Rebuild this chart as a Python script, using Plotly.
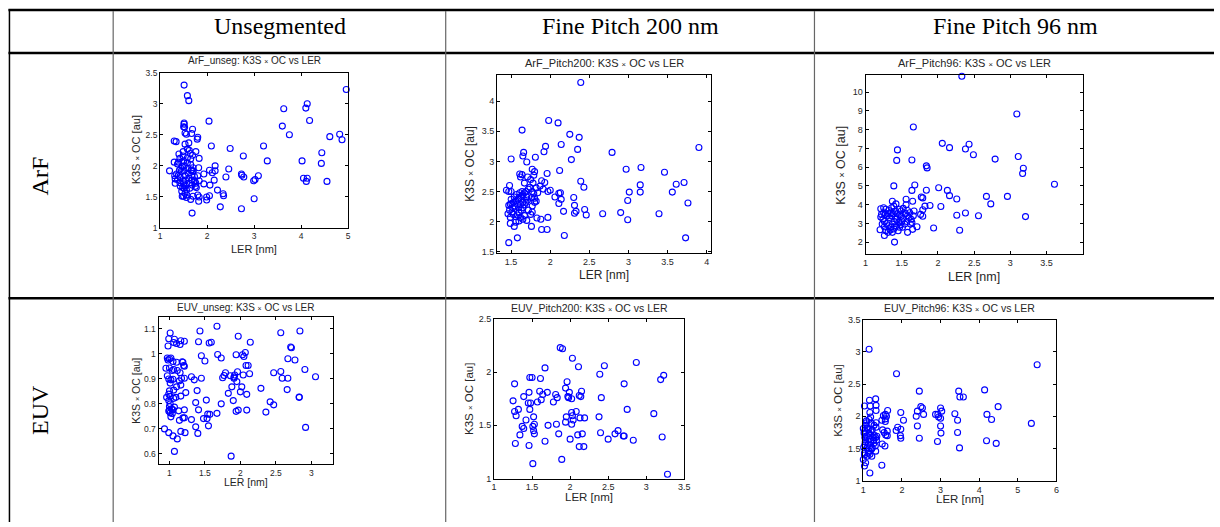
import plotly.graph_objects as go

W, H = 1220, 527

# ---------------- text ----------------
col_headers = ["Unsegmented", "Fine Pitch 200 nm", "Fine Pitch 96 nm"]
row_headers = ["ArF", "EUV"]
panel_names = ["ArF_unseg", "ArF_Pitch200", "ArF_Pitch96", "EUV_unseg", "EUV_Pitch200", "EUV_Pitch96"]
x_label = "LER [nm]"
y_label = "K3S × OC [au]"

# ---------------- data ----------------
arf_unseg_ler = [1.51, 1.58, 1.61, 4.96, 4.13, 4.10, 3.63, 4.18, 3.60, 3.75, 4.82, 4.87, 4.61, 4.44, 4.43,
                 4.02, 4.05, 4.11, 4.13, 4.55, 3.20, 3.28, 3.09, 3.02, 2.99, 3.00, 2.77, 2.73, 2.74, 2.78,
                 2.73, 2.49, 2.46, 2.40, 2.34, 2.35, 2.28, 2.22, 2.04, 2.09, 2.17, 2.17, 2.11, 2.05, 2.15,
                 2.06, 2.05, 1.99, 1.99, 1.93, 1.93, 1.83, 1.80, 1.79, 1.76, 1.82, 1.80, 1.83, 1.80, 1.83,
                 1.82, 1.68, 1.65, 1.70, 1.77, 1.76, 1.69, 1.67, 1.61, 1.62, 1.56, 1.52, 1.51, 1.51, 1.50,
                 1.53, 1.30, 1.34, 1.20, 1.30, 1.31, 1.32, 1.32,
                 1.37, 1.40, 1.42, 1.44, 1.39, 1.37, 1.42, 1.43, 1.46, 1.47, 1.48, 1.49, 1.49, 1.50, 1.51,
                 1.51, 1.53, 1.54, 1.54, 1.56, 1.57, 1.58, 1.58, 1.59, 1.60, 1.61, 1.62, 1.63, 1.64, 1.65,
                 1.65, 1.66, 1.67, 1.68, 1.68, 1.69, 1.70, 1.70, 1.73, 1.74, 1.75, 1.46, 1.47, 1.45, 1.43,
                 1.49, 1.50, 1.51, 1.53, 1.50, 1.56, 1.39, 1.35, 1.41, 1.53, 1.58, 1.67, 1.70]
arf_unseg_k3s = [3.30, 3.13, 3.05, 3.23, 3.00, 2.93, 2.92, 2.73, 2.64, 2.50, 2.51, 2.42, 2.47, 2.21, 2.04,
                 2.08, 1.80, 1.75, 1.80, 1.75, 2.32, 2.08, 1.84, 1.78, 1.76, 1.47, 2.16, 1.87, 1.85, 1.82,
                 1.31, 2.28, 1.95, 1.82, 1.55, 1.52, 1.34, 1.61, 2.72, 2.32, 2.00, 1.92, 1.89, 1.93, 1.77,
                 1.69, 1.52, 1.50, 1.45, 1.71, 1.87, 2.12, 2.46, 2.43, 2.23, 1.97, 1.84, 1.76, 1.53, 1.50,
                 1.43, 1.24, 1.46, 1.51, 1.65, 1.72, 2.59, 2.52, 2.37, 2.25, 2.51, 2.62, 2.69, 2.67, 2.63,
                 2.53, 2.40, 2.39, 1.92, 2.06, 1.84, 1.79, 1.72,
                 2.03, 2.19, 2.12, 1.96, 1.85, 1.78, 1.73, 1.67, 1.59, 1.51, 1.65, 2.23, 2.16, 2.08, 2.00,
                 1.92, 1.84, 1.77, 1.68, 1.61, 1.53, 2.13, 2.05, 1.96, 1.88, 1.80, 1.72, 1.64, 2.20, 2.11,
                 2.02, 1.93, 1.85, 1.77, 1.69, 2.17, 1.97, 1.92, 1.83, 1.75, 1.67, 2.06, 1.99, 1.91, 1.81,
                 1.75, 1.71, 1.64, 1.56, 1.51, 1.49, 2.06, 1.87, 1.93, 2.35, 2.27, 1.93, 1.91]

arf_p200_ler = [2.39, 1.98, 2.10, 1.64, 2.25, 2.37, 2.14, 1.94, 2.35, 1.92, 1.66, 1.65, 1.81, 1.50, 2.27,
                2.79, 1.70, 3.90, 2.97, 3.16, 3.46, 3.61, 3.71, 3.15, 3.15, 3.01, 3.56, 2.99, 3.76, 3.39,
                2.90, 2.67, 2.99, 3.73, 2.39, 2.43, 2.12, 1.96, 2.30, 2.31, 2.31, 2.33, 2.44, 2.46, 2.17,
                2.13, 2.11, 2.14, 2.11, 2.06, 2.00, 1.97, 1.97, 1.96, 1.89, 1.88, 1.83, 1.77, 1.76, 2.18,
                1.58, 1.47, 1.49, 1.54, 1.93, 1.91, 1.89, 1.87, 1.77, 1.80, 1.79, 1.75, 1.71, 1.67, 1.64,
                1.61, 1.62,
                1.44, 1.47, 1.50, 1.48, 1.49, 1.51, 1.53, 1.56, 1.59, 1.60, 1.63, 1.65, 1.67, 1.69, 1.72,
                1.74, 1.77, 1.79, 1.80, 1.82, 1.80, 1.76, 1.71, 1.69, 1.67, 1.65, 1.63, 1.60, 1.58, 1.56,
                1.53, 1.51, 1.48, 1.47, 1.52, 1.55, 1.58, 1.60, 1.62, 1.65, 1.67, 1.70, 1.62, 1.65, 1.67,
                1.70, 1.60, 1.56, 1.49, 1.46, 1.64, 1.61, 1.57, 1.54, 1.50, 1.82, 1.84, 1.78, 1.75, 1.77,
                1.72]
arf_p200_k3s = [4.31, 3.68, 3.64, 3.52, 3.45, 3.40, 3.28, 3.25, 3.20, 3.16, 3.15, 3.09, 3.07, 3.04, 3.03,
                3.15, 2.99, 3.23, 2.87, 2.90, 2.82, 2.62, 2.65, 2.61, 2.49, 2.49, 2.49, 2.35, 2.31, 2.13,
                2.15, 2.13, 2.03, 1.73, 2.67, 2.57, 2.85, 2.80, 2.40, 2.27, 2.14, 2.17, 2.20, 2.11, 2.17,
                2.48, 2.47, 2.37, 2.30, 2.41, 2.52, 2.50, 2.07, 1.87, 1.87, 2.04, 2.06, 2.16, 1.92, 1.77,
                1.73, 1.65, 1.97, 1.92, 2.65, 2.54, 2.68, 2.59, 2.87, 2.83, 2.77, 2.70, 2.74, 2.64, 2.78,
                2.79, 2.74,
                2.52, 2.50, 2.50, 2.60, 2.29, 2.30, 2.32, 2.34, 2.37, 2.40, 2.42, 2.45, 2.48, 2.50, 2.54,
                2.57, 2.50, 2.46, 2.39, 2.34, 2.32, 2.40, 2.36, 2.32, 2.28, 2.23, 2.19, 2.15, 2.11, 2.08,
                2.12, 2.16, 2.19, 2.27, 2.23, 2.26, 2.29, 2.23, 2.28, 2.32, 2.36, 2.41, 2.07, 2.04, 2.10,
                2.02, 2.01, 1.99, 2.07, 2.13, 2.50, 2.48, 2.45, 2.41, 2.37, 2.56, 2.48, 2.64, 2.12, 2.26,
                2.19]

arf_p96_ler = [2.33, 3.09, 1.66, 2.06, 2.43, 2.16, 2.38, 1.44, 2.49, 1.43, 1.64, 2.79, 3.11, 3.18, 3.17,
               1.84, 1.85, 3.61, 1.39, 1.68, 2.01, 2.13, 1.84, 1.64, 2.16, 2.67, 2.96, 2.26, 2.73, 1.77,
               1.79, 1.65, 1.56, 1.56, 1.89, 2.04, 1.82, 1.79, 1.76, 1.79, 2.38, 2.26, 2.56, 3.21, 1.94,
               2.30, 1.71, 1.65, 1.58, 1.40, 1.26, 1.20, 1.37, 1.42,
               1.21, 1.25, 1.28, 1.32, 1.36, 1.39, 1.41, 1.44, 1.47, 1.49, 1.52, 1.55, 1.58, 1.60, 1.63,
               1.66, 1.61, 1.58, 1.21, 1.24, 1.26, 1.29, 1.32, 1.35, 1.37, 1.40, 1.43, 1.46, 1.48, 1.51,
               1.54, 1.57, 1.23, 1.26, 1.28, 1.31, 1.34, 1.37, 1.39, 1.42, 1.45, 1.47, 1.30, 1.33, 1.36,
               1.38, 1.35, 1.31, 1.27, 1.25, 1.22, 1.41, 1.47, 1.49, 1.52, 1.50, 1.64, 1.67, 1.62]
arf_p96_k3s = [10.85, 8.84, 8.14, 7.27, 7.22, 7.04, 6.97, 6.92, 6.66, 6.36, 6.38, 6.43, 6.57, 5.94, 5.66,
               6.07, 5.96, 5.09, 5.00, 5.05, 4.90, 4.76, 4.77, 4.76, 4.48, 4.44, 4.44, 4.30, 4.04, 4.41,
               4.36, 4.18, 4.29, 3.99, 3.95, 3.90, 3.92, 3.73, 3.48, 3.38, 3.55, 3.43, 3.41, 3.36, 2.75,
               2.63, 2.82, 2.68, 2.52, 2.00, 2.35, 2.66, 4.18, 4.04,
               3.78, 3.83, 3.75, 3.69, 3.83, 3.92, 3.66, 3.52, 3.45, 3.36, 3.27, 3.52, 3.41, 3.31, 3.22,
               3.40, 3.57, 3.69, 3.34, 3.22, 3.10, 2.99, 2.87, 2.79, 2.96, 3.10, 3.22, 3.05, 2.92, 2.79,
               2.96, 3.10, 2.96, 2.82, 2.61, 2.52, 2.65, 2.52, 2.70, 2.87, 2.61, 2.79, 3.40, 3.31, 3.40,
               3.52, 3.57, 3.52, 3.48, 3.57, 3.48, 3.34, 3.75, 3.66, 3.80, 3.13, 3.05, 3.66, 2.96]

euv_unseg_ler = [1.67, 1.01, 1.43, 2.57, 2.84, 1.97, 0.99, 1.07, 1.16, 1.21, 1.06, 1.10, 1.15, 1.41, 1.56,
                 1.59, 2.14, 0.98, 2.71, 2.72, 2.07, 2.03, 2.05, 1.94, 1.68, 1.73, 1.45, 1.50, 0.97, 1.00,
                 1.02, 0.98, 1.05, 1.10, 1.18, 1.19, 1.20, 1.21, 2.67, 2.77, 2.08, 2.11, 0.95, 1.00, 1.06,
                 1.11, 1.04, 1.15, 1.79, 1.77, 1.75, 1.86, 1.96, 1.92, 1.91, 1.91, 2.04, 2.13, 2.47, 2.57,
                 2.91, 3.06, 2.59, 2.67, 1.31, 1.35, 1.45, 0.97, 0.99, 1.02, 1.05, 1.01, 1.17, 1.21, 1.14,
                 1.16, 1.10, 1.06, 1.00, 0.99, 1.01, 1.16, 1.09, 1.06, 0.96, 0.99, 1.23, 1.39, 1.83, 1.88,
                 2.02, 2.00, 2.09, 1.95, 2.29, 2.66, 2.83, 2.83, 2.42, 2.47, 1.90, 1.73, 1.52, 1.37, 1.41,
                 1.01, 1.00, 1.03, 1.05, 0.99, 1.01, 1.04, 1.00, 1.07, 1.13, 1.21, 1.94, 1.97, 2.09, 2.36,
                 1.67, 1.54, 1.57, 1.48, 1.53, 1.02, 1.14, 1.19, 1.21, 1.31, 1.37, 1.55, 2.92, 0.93, 0.99,
                 1.16, 1.22, 1.40, 1.05, 1.11, 1.07, 1.87]
euv_unseg_k3s = [1.110, 1.083, 1.091, 1.084, 1.091, 1.070, 1.060, 1.058, 1.052, 1.050, 1.045, 1.041, 1.037,
                 1.048, 1.043, 1.046, 1.046, 1.031, 1.027, 1.024, 1.005, 0.996, 0.989, 0.996, 0.997, 0.983,
                 0.992, 0.971, 0.983, 0.980, 0.983, 0.975, 0.969, 0.966, 0.968, 0.966, 0.953, 0.950, 0.980,
                 0.975, 0.953, 0.953, 0.942, 0.943, 0.937, 0.933, 0.933, 0.924, 0.924, 0.913, 0.904, 0.912,
                 0.928, 0.915, 0.907, 0.902, 0.915, 0.920, 0.924, 0.929, 0.937, 0.908, 0.902, 0.902, 0.908,
                 0.896, 0.902, 0.912, 0.899, 0.896, 0.898, 0.883, 0.902, 0.902, 0.892, 0.875, 0.868, 0.855,
                 0.852, 0.839, 0.830, 0.831, 0.826, 0.822, 0.826, 0.813, 0.845, 0.853, 0.842, 0.868, 0.868,
                 0.848, 0.838, 0.889, 0.862, 0.857, 0.827, 0.826, 0.808, 0.796, 0.813, 0.800, 0.815, 0.805,
                 0.776, 0.800, 0.789, 0.780, 0.776, 0.771, 0.764, 0.761, 0.774, 0.787, 0.772, 0.776, 0.770,
                 0.775, 0.775, 0.767, 0.762, 0.759, 0.758, 0.741, 0.741, 0.748, 0.734, 0.744, 0.744, 0.737,
                 0.708, 0.712, 0.706, 0.700, 0.685, 0.690, 0.685, 0.682, 0.672, 0.660, 0.610, 0.591]

euv_p200_ler = [1.87, 1.90, 2.03, 2.87, 2.45, 1.67, 2.11, 2.39, 3.23, 3.19, 1.47, 1.50, 1.61, 1.96, 1.27,
                2.71, 1.94, 1.46, 1.60, 1.70, 1.99, 2.15, 1.64, 1.81, 1.97, 1.98, 2.12, 2.14, 1.39, 1.83,
                2.02, 2.41, 1.62, 1.25, 1.57, 1.78, 1.45, 1.48, 1.27, 1.32, 1.47, 2.75, 3.10, 2.02, 2.08,
                1.29, 1.52, 1.95, 2.03, 2.13, 2.19, 2.38, 1.42, 2.04, 1.94, 1.82, 1.71, 1.53, 2.02, 1.37,
                1.39, 1.51, 1.52, 2.63, 2.59, 2.40, 1.34, 1.53, 1.85, 2.16, 2.10, 2.70, 2.71, 3.21, 2.00,
                2.50, 2.83, 1.67, 1.28, 1.46, 2.12, 2.18, 1.89, 1.51, 3.28]
euv_p200_k3s = [2.23, 2.22, 2.13, 2.09, 2.06, 2.04, 2.05, 1.98, 1.97, 1.93, 1.95, 1.95, 1.94, 1.91, 1.89,
                1.89, 1.85, 1.81, 1.82, 1.81, 1.81, 1.82, 1.79, 1.79, 1.77, 1.76, 1.78, 1.77, 1.77, 1.76,
                1.75, 1.76, 1.74, 1.73, 1.72, 1.72, 1.71, 1.71, 1.63, 1.65, 1.65, 1.65, 1.61, 1.62, 1.63,
                1.59, 1.58, 1.58, 1.59, 1.57, 1.57, 1.58, 1.55, 1.55, 1.53, 1.51, 1.50, 1.51, 1.51, 1.49,
                1.47, 1.49, 1.45, 1.45, 1.42, 1.43, 1.41, 1.42, 1.42, 1.42, 1.41, 1.40, 1.40, 1.39, 1.37,
                1.37, 1.36, 1.35, 1.33, 1.31, 1.30, 1.30, 1.18, 1.14, 1.04]

euv_p96_ler = [1.15, 5.50, 1.86, 4.14, 3.47, 2.45, 3.50, 3.59, 1.32, 1.16, 4.49, 1.03, 1.33, 2.49, 2.53,
               3.00, 1.18, 1.33, 1.63, 1.17, 1.97, 2.40, 3.03, 3.37, 1.57, 4.20, 2.56, 2.87, 2.93, 2.37,
               1.60, 1.52, 2.95, 3.00, 1.15, 1.57, 1.48, 2.04, 3.44, 4.32, 1.57, 1.08, 1.33, 1.21, 5.35,
               1.28, 2.40, 1.33, 1.89, 3.00, 1.97, 1.00, 1.13, 1.85, 1.04, 1.50, 1.62, 1.20, 3.44, 1.54,
               1.04, 3.01, 1.02, 1.58, 1.17, 1.96, 1.62, 1.28, 1.35, 1.04, 1.25, 1.32, 1.97, 2.45, 1.15,
               1.27, 1.34, 2.92, 4.19, 4.44, 1.05, 1.13, 1.49, 1.56, 1.04, 1.19, 1.31, 1.01, 1.10, 3.49,
               1.21, 1.32, 1.15, 1.03, 1.17, 1.03, 1.10, 1.22, 1.00, 1.06, 1.03, 1.48, 1.17,
               1.06, 1.10, 1.23, 1.15, 1.08, 1.19, 1.27, 1.06, 1.23, 1.13, 1.08, 1.19]
euv_p96_k3s = [3.04, 2.80, 2.66, 2.41, 2.39, 2.39, 2.30, 2.30, 2.27, 2.25, 2.15, 2.16, 2.17, 2.15, 2.13,
               2.13, 2.16, 2.09, 2.09, 2.06, 2.06, 2.08, 2.08, 2.04, 2.03, 2.03, 2.03, 2.03, 2.03, 2.00,
               2.00, 2.01, 1.99, 1.97, 1.95, 1.96, 1.94, 1.94, 1.94, 1.95, 1.92, 1.90, 1.90, 1.89, 1.89,
               1.86, 1.85, 1.83, 1.83, 1.85, 1.80, 1.81, 1.80, 1.78, 1.78, 1.79, 1.77, 1.76, 1.75, 1.75,
               1.74, 1.74, 1.74, 1.71, 1.70, 1.70, 1.70, 1.71, 1.69, 1.67, 1.67, 1.67, 1.66, 1.66, 1.64,
               1.63, 1.63, 1.61, 1.62, 1.58, 1.60, 1.57, 1.57, 1.54, 1.56, 1.55, 1.54, 1.52, 1.51, 1.51,
               1.49, 1.46, 1.46, 1.43, 1.41, 1.40, 1.38, 1.38, 1.33, 1.28, 1.23, 1.24, 1.12,
               1.86, 1.82, 1.79, 1.74, 1.69, 1.61, 1.58, 1.63, 1.51, 1.43, 1.93, 1.99]

# tick values (labels derived from these)
arf_unseg_xticks = [1, 2, 3, 4, 5]
arf_unseg_yticks = [1, 1.5, 2, 2.5, 3, 3.5]
arf_p200_xticks = [1.5, 2, 2.5, 3, 3.5, 4]
arf_p200_yticks = [1.5, 2, 2.5, 3, 3.5, 4]
arf_p96_xticks = [1, 1.5, 2, 2.5, 3, 3.5]
arf_p96_yticks = [2, 3, 4, 5, 6, 7, 8, 9, 10]
euv_unseg_xticks = [1, 1.5, 2, 2.5, 3]
euv_unseg_yticks = [0.6, 0.7, 0.8, 0.9, 1, 1.1]
euv_p200_xticks = [1, 1.5, 2, 2.5, 3, 3.5]
euv_p200_yticks = [1, 1.5, 2, 2.5]
euv_p96_xticks = [1, 2, 3, 4, 5, 6]
euv_p96_yticks = [1, 1.5, 2, 2.5, 3, 3.5]

# ---------------- layout config (pixels) ----------------
panels = [
    dict(x=arf_unseg_ler, y=arf_unseg_k3s, xt=arf_unseg_xticks, yt=arf_unseg_yticks,
         box=(158.3, 347.7, 69, 227.3), xr=[1, 5], yr=[1, 3.5],
         tick=8.5, lab=11, ttl=10, ttl_y=57, xl_y=249, yl_x=134),
    dict(x=arf_p200_ler, y=arf_p200_k3s, xt=arf_p200_xticks, yt=arf_p200_yticks,
         box=(497.7, 713.7, 71.7, 252.7), xr=[1.32, 4.06], yr=[1.48, 4.43],
         tick=9, lab=12, ttl=11, ttl_y=59, xl_y=275, yl_x=471),
    dict(x=arf_p96_ler, y=arf_p96_k3s, xt=arf_p96_xticks, yt=arf_p96_yticks,
         box=(869, 1087.7, 71.7, 254.3), xr=[1, 4], yr=[1.34, 10.9],
         tick=9, lab=12.5, ttl=11, ttl_y=59, xl_y=277.7, yl_x=844),
    dict(x=euv_unseg_ler, y=euv_unseg_k3s, xt=euv_unseg_xticks, yt=euv_unseg_yticks,
         box=(156.7, 332.7, 318.3, 468.3), xr=[0.846, 3.31], yr=[0.558, 1.146],
         tick=8.5, lab=10.5, ttl=10, ttl_y=308, xl_y=486.5, yl_x=134),
    dict(x=euv_p200_ler, y=euv_p200_k3s, xt=euv_p200_xticks, yt=euv_p200_yticks,
         box=(494.7, 686.3, 320, 482.7), xr=[1, 3.5], yr=[1, 2.5],
         tick=9, lab=11.5, ttl=10.5, ttl_y=309, xl_y=502, yl_x=468.7),
    dict(x=euv_p96_ler, y=euv_p96_k3s, xt=euv_p96_xticks, yt=euv_p96_yticks,
         box=(866.7, 1061.3, 320.7, 485), xr=[1, 6], yr=[1, 3.5],
         tick=9, lab=11.5, ttl=10.5, ttl_y=309, xl_y=504, yl_x=841.7),
]


def px(v):
    return min(max(v / W, 0.0), 1.0)


def py(v):
    return min(max(1 - v / H, 0.0), 1.0)


TXT = "#262626"
SANS = "Liberation Sans, Arial, sans-serif"
SERIF = "Liberation Serif, Times New Roman, serif"

fig = go.Figure()
annotations = []
layout_axes = {}

for i, p in enumerate(panels):
    n = "" if i == 0 else str(i + 1)
    fig.add_trace(go.Scatter(
        x=p["x"], y=p["y"], mode="markers", xaxis="x" + n, yaxis="y" + n,
        marker=dict(symbol="circle-open", size=6, color="#0000ff", line=dict(width=1.1, color="#0000ff")),
        cliponaxis=False, showlegend=False, hoverinfo="x+y"))
    l, r, t, b = p["box"]
    common = dict(showline=True, linecolor="black", linewidth=1, mirror="ticks",
                  ticks="inside", ticklen=3, tickwidth=1, tickcolor="black",
                  showgrid=False, zeroline=False,
                  tickfont=dict(family=SANS, size=p["tick"], color=TXT))
    layout_axes["xaxis" + n] = dict(domain=[px(l), px(r)], range=p["xr"], anchor="y" + n,
                                    tickvals=p["xt"], ticktext=[f"{v:g}" for v in p["xt"]], **common)
    layout_axes["yaxis" + n] = dict(domain=[py(b), py(t)], range=p["yr"], anchor="x" + n,
                                    tickvals=p["yt"], ticktext=[f"{v:g}" for v in p["yt"]], **common)
    cx = (l + r) / 2
    cy = (t + b) / 2
    small_x = f"<span style='font-size:{p['ttl'] * 0.7:.1f}px'>×</span>"
    annotations.append(dict(x=px(cx), y=py(p["ttl_y"]), xref="paper", yref="paper",
                            text=f"{panel_names[i]}: K3S {small_x} OC vs LER", showarrow=False,
                            xanchor="center", yanchor="middle",
                            font=dict(family=SANS, size=p["ttl"], color=TXT)))
    annotations.append(dict(x=px(cx), y=py(p["xl_y"]), xref="paper", yref="paper",
                            text=x_label, showarrow=False, xanchor="center", yanchor="middle",
                            font=dict(family=SANS, size=p["lab"], color=TXT)))
    small_y = f"<span style='font-size:{p['lab'] * 0.7:.1f}px'>×</span>"
    annotations.append(dict(x=px(p["yl_x"]), y=py(cy), xref="paper", yref="paper",
                            text=f"K3S {small_y} OC [au]", showarrow=False, textangle=-90,
                            xanchor="center", yanchor="middle",
                            font=dict(family=SANS, size=p["lab"], color=TXT)))

# table headers
header_x = [279, 632, 1020]
for h, cxp in zip(col_headers, header_x):
    annotations.append(dict(x=px(cxp), y=py(21), xref="paper", yref="paper", text=h, showarrow=False,
                            xanchor="center", yanchor="middle",
                            font=dict(family=SERIF, size=24, color="black")))
row_y = [174, 413]
for h, ryp in zip(row_headers, row_y):
    annotations.append(dict(x=px(37), y=py(ryp), xref="paper", yref="paper", text=h, showarrow=False,
                            textangle=-90, xanchor="center", yanchor="middle",
                            font=dict(family=SERIF, size=24, color="black")))

# table grid lines (kept inside the figure so the page does not grow)
shapes = []
for yy in [5, 49, 299]:
    shapes.append(dict(type="line", xref="paper", yref="paper", x0=px(5.5), x1=px(W),
                       y0=py(yy), y1=py(yy), line=dict(color="black", width=2.5)))
shapes.append(dict(type="line", xref="paper", yref="paper", x0=px(6.5), x1=px(6.5),
                   y0=py(4), y1=py(H), line=dict(color="black", width=1.5)))
for xx in [111, 446, 817.5]:
    shapes.append(dict(type="line", xref="paper", yref="paper", x0=px(xx), x1=px(xx),
                       y0=py(6), y1=py(H), line=dict(color="#666666", width=1.2)))

fig.update_layout(width=W, height=H, margin=dict(l=0, r=0, t=0, b=0),
                  paper_bgcolor="white", plot_bgcolor="white",
                  annotations=annotations, shapes=shapes, **layout_axes)

# make the page margin-free and let the figure fill the browser viewport exactly
fit_script = (
    "document.documentElement.style.margin='0';document.body.style.margin='0';"
    "document.documentElement.style.overflow='hidden';document.body.style.overflow='hidden';"
    "var gd=document.getElementById('{plot_id}');"
    "var vw=window.innerWidth, vh=window.innerHeight;"
    "if(vw>0 && vh>0 && (vw!==gd._fullLayout.width || vh!==gd._fullLayout.height)){"
    "gd.style.width=vw+'px';gd.style.height=vh+'px';"
    "Plotly.relayout(gd,{width:vw,height:vh});}"
)
fig.write_html("out.html", config={"displayModeBar": False}, post_script=fit_script)
